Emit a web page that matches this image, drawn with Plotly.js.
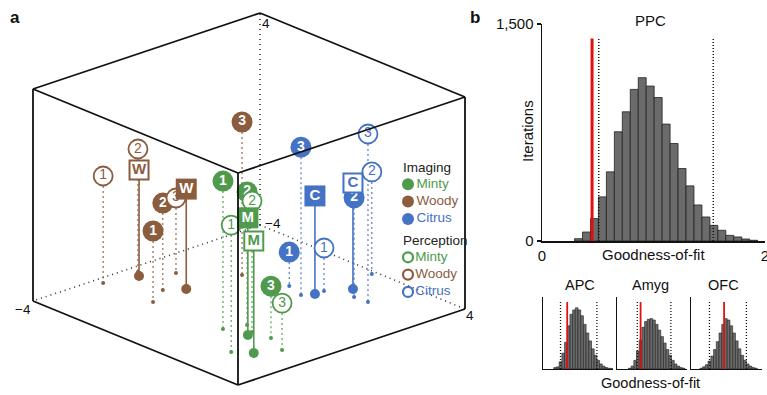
<!DOCTYPE html>
<html><head><meta charset="utf-8">
<script src="https://cdn.plot.ly/plotly-3.0.1.min.js"></script>
<style>html,body{margin:0;padding:0;background:#fff}#chart{width:767px;height:395px}</style>
</head><body><div id="chart"></div>
<script>
// ================= DATA =================
// Panel a: 3D coordinates (each axis spans -4..4); order: point 1, 2, 3, template
const numberLabels = ['1','2','3'];
const templateLetters = {Minty:'M', Woody:'W', Citrus:'C'};
const odorColors = {Minty:'#4f9a4c', Woody:'#8b5c3e', Citrus:'#4472c4'};

const imgMintyX = [-1.64,-0.98,-1.14,-1.44], imgMintyY = [-0.80,-1.01,-2.12,-1.55], imgMintyZ = [1.58,1.02,-2.04,0.42];
const perMintyX = [-2.57,-1.22,-1.49,-2.18], perMintyY = [-2.15,-1.47,-2.94,-2.60], perMintyZ = [0.79,0.94,-2.23,0.23];
const imgWoodyX = [-1.72,-0.96,1.29,-0.46], imgWoodyY = [1.84,2.30,1.70,1.94], imgWoodyZ = [-1.32,-0.72,1.77,-0.23];
const perWoodyX = [-1.79,-0.59,0.10,-0.76], perWoodyY = [3.71,3.68,2.96,3.45], perWoodyZ = [0.04,0.64,-1.17,0.00];
const imgCitrusX = [1.68,2.42,1.48,1.80], imgCitrusY = [0.29,-1.42,-0.39,-0.58], imgCitrusZ = [-2.72,-0.26,1.58,-0.30];
const perCitrusX = [2.12,3.85,2.45,2.77], perCitrusY = [-0.58,-0.53,-1.93,-0.99], perCitrusZ = [-2.38,-0.15,2.34,0.00];

const cubeTickLabels = ['4','\u22124','\u22124','4'];   // top-back, back-bottom, left-bottom, right-bottom
const legendOdors = ['Minty','Woody','Citrus'];
const legendHeadings = ['Imaging','Perception'];

// Panel b: PPC histogram (goodness-of-fit, iterations)
const ppcBinStart = 0.292, ppcBinWidth = 0.0714;
const ppcCounts = [16,62,155,305,478,755,893,1048,1129,1071,992,808,674,501,381,249,166,108,74,39,28,14,5];
const ppcObserved = 0.449;
const ppcCI = [0.509, 1.536];
const ppcLineTop = 1400;
const ppcYTicks = [0,1500], ppcYTickText = ['0','1,500'];
const ppcXTicks = [0,2], ppcXTickText = ['0','2'];

// Small panels (relative units)
const smallNames = ['APC','Amyg','OFC'];
const smallBinStart = [0.154,0.163,0.125];
const smallBinWidth = 0.0385;
const apcCounts  = [0.02,0.03,0.10,0.22,0.37,0.60,0.76,0.82,0.85,0.82,0.74,0.62,0.50,0.39,0.28,0.19,0.12,0.07,0.04,0.02,0.01,0.005];
const amygCounts = [0.01,0.04,0.12,0.25,0.40,0.58,0.66,0.69,0.70,0.68,0.62,0.54,0.45,0.36,0.27,0.19,0.12,0.07,0.04,0.02,0.01];
const ofcCounts  = [0.01,0.03,0.06,0.11,0.18,0.27,0.38,0.50,0.62,0.70,0.68,0.60,0.50,0.39,0.28,0.19,0.12,0.07,0.04,0.02,0.01];
const smallObserved = [0.346,0.337,0.466];
const smallCI = [[0.25,0.77],[0.29,0.77],[0.26,0.78]];
const smallLineTop = 0.93;

// ================= LAYOUT CONSTANTS =================
const FONT = 'Liberation Sans, Arial, Helvetica, sans-serif';
const P0 = [238,385], PR = [227,-76], PL = [-205,-84], PUy = -212;
function proj(x,y,z){
  const a=(x+4)/8, b=(y+4)/8, c=(z+4)/8;
  return [P0[0]+a*PR[0]+b*PL[0], P0[1]+a*PR[1]+b*PL[1]+c*PUy];
}
const traces = [];
const annotations = [];
const W=767,H=395;
function dx(p){return p/W;} function dy(p){return (H-p)/H;}
function paperText(x,y,text,size,extra){
  return Object.assign({x:dx(x),y:dy(y),xref:'paper',yref:'paper',text:text,showarrow:false,xanchor:'center',yanchor:'middle',
    font:{size:size,family:FONT,color:'#111'}},extra||{});
}

// hidden (dotted) cube edges
const hiddenEdges = [[[4,4,-4],[4,4,4]],[[4,4,-4],[-4,4,-4]],[[4,4,-4],[4,-4,-4]]];
hiddenEdges.forEach(e=>{
  const p=proj(...e[0]), q=proj(...e[1]);
  traces.push({x:[p[0],q[0]],y:[p[1],q[1]],mode:'lines',line:{color:'#333',width:1.6,dash:'1px,4px'},xaxis:'x',yaxis:'y',hoverinfo:'skip',showlegend:false});
});

const groups = [
  {odor:'Minty', filled:true, X:imgMintyX,Y:imgMintyY,Z:imgMintyZ},
  {odor:'Woody', filled:true, X:imgWoodyX,Y:imgWoodyY,Z:imgWoodyZ},
  {odor:'Citrus',filled:true, X:imgCitrusX,Y:imgCitrusY,Z:imgCitrusZ},
  {odor:'Minty', filled:false,X:perMintyX,Y:perMintyY,Z:perMintyZ},
  {odor:'Woody', filled:false,X:perWoodyX,Y:perWoodyY,Z:perWoodyZ},
  {odor:'Citrus',filled:false,X:perCitrusX,Y:perCitrusY,Z:perCitrusZ},
];
groups.forEach(g=>{
  g.pts = g.X.map((x,i)=>proj(x,g.Y[i],g.Z[i]));
  g.floor = g.X.map((x,i)=>proj(x,g.Y[i],-4));
});
// drop lines + floor dots
groups.forEach(g=>{
  const col = odorColors[g.odor];
  const xs=[],ys=[];
  for(let i=0;i<3;i++){xs.push(g.pts[i][0],g.floor[i][0],null);ys.push(g.pts[i][1],g.floor[i][1],null);}
  traces.push({x:xs,y:ys,mode:'lines',line:{color:col,width:1.1,dash:'2px,3px'},xaxis:'x',yaxis:'y',hoverinfo:'skip',showlegend:false});
  traces.push({x:[g.pts[3][0],g.floor[3][0]],y:[g.pts[3][1],g.floor[3][1]],mode:'lines',line:{color:col,width:1.6},xaxis:'x',yaxis:'y',hoverinfo:'skip',showlegend:false});
  traces.push({x:g.floor.slice(0,3).map(p=>p[0]),y:g.floor.slice(0,3).map(p=>p[1]),mode:'markers',marker:{color:col,size:4},xaxis:'x',yaxis:'y',hoverinfo:'skip',showlegend:false});
  traces.push({x:[g.floor[3][0]],y:[g.floor[3][1]],mode:'markers',marker:{color:col,size:10},xaxis:'x',yaxis:'y',hoverinfo:'skip',showlegend:false});
});
// numbered markers (filled first, then open)
groups.forEach(g=>{
  const col = odorColors[g.odor];
  traces.push({x:g.pts.slice(0,3).map(p=>p[0]),y:g.pts.slice(0,3).map(p=>p[1]),text:numberLabels,mode:'markers+text',textposition:'middle center',
    marker:g.filled?{color:col,size:21,line:{width:0}}:{color:'#fff',size:19,line:{color:col,width:1.8}},
    textfont:{family:FONT,size:14,color:g.filled?'#fff':col,weight:g.filled?'bold':'normal'},
    xaxis:'x',yaxis:'y',hoverinfo:'skip',showlegend:false});
});
// template markers
groups.forEach(g=>{
  const col = odorColors[g.odor];
  traces.push({x:[g.pts[3][0]],y:[g.pts[3][1]],text:[templateLetters[g.odor]],mode:'markers+text',textposition:'middle center',
    marker:g.filled?{symbol:'square',color:col,size:21,line:{width:0}}:{symbol:'square',color:'#fff',size:19,line:{color:col,width:2}},
    textfont:{family:FONT,size:15,color:g.filled?'#fff':col,weight:'bold'},
    xaxis:'x',yaxis:'y',hoverinfo:'skip',showlegend:false});
});
// visible cube edges
const visEdges = [
  [[-4,-4,4],[4,-4,4]],[[4,-4,4],[4,4,4]],[[4,4,4],[-4,4,4]],[[-4,4,4],[-4,-4,4]],
  [[-4,-4,-4],[-4,-4,4]],[[4,-4,-4],[4,-4,4]],[[-4,4,-4],[-4,4,4]],
  [[-4,4,-4],[-4,-4,-4]],[[-4,-4,-4],[4,-4,-4]]];
{
  const xs=[],ys=[];
  visEdges.forEach(e=>{const p=proj(...e[0]),q=proj(...e[1]);xs.push(p[0],q[0],null);ys.push(p[1],q[1],null);});
  traces.push({x:xs,y:ys,mode:'lines',line:{color:'#111',width:1.8},xaxis:'x',yaxis:'y',hoverinfo:'skip',showlegend:false});
}
// cube tick labels
const tickCorners = [[4,4,4],[4,4,-4],[-4,4,-4],[4,-4,-4]];
const tickShifts = [[6,-10],[13,2],[-10,-8],[5,-6]];
tickCorners.forEach((c,i)=>{
  const p=proj(...c);
  annotations.push({x:p[0],y:p[1],xref:'x',yref:'y',text:cubeTickLabels[i],showarrow:false,xanchor:'center',yanchor:'middle',xshift:tickShifts[i][0],yshift:tickShifts[i][1],font:{family:FONT,size:13.5,color:'#111'}});
});
// legend
const LEG_X = 408, LEG_TX = 401, LEG_HEAD_Y = [167,240], LEG_DY = 17.3;
legendHeadings.forEach((h,k)=>{
  annotations.push({x:LEG_TX,y:LEG_HEAD_Y[k],xref:'x',yref:'y',text:h,showarrow:false,xanchor:'left',yanchor:'middle',font:{family:FONT,size:13.5,color:'#222'}});
  traces.push({x:legendOdors.map(()=>LEG_X),y:legendOdors.map((o,i)=>LEG_HEAD_Y[k]+LEG_DY*(i+1)),text:legendOdors,mode:'markers+text',textposition:'middle right',
    marker:k===0?{color:legendOdors.map(o=>odorColors[o]),size:12}:{color:'#fff',size:10,line:{color:legendOdors.map(o=>odorColors[o]),width:2.2}},
    textfont:{family:FONT,size:13.5,color:legendOdors.map(o=>odorColors[o])},xaxis:'x',yaxis:'y',hoverinfo:'skip',showlegend:false});
});

// ---- panel b: PPC ----
traces.push({type:'bar',x:ppcCounts.map((c,i)=>ppcBinStart+ppcBinWidth*(i+0.5)),y:ppcCounts,width:ppcBinWidth,
  marker:{color:'#6b6b6b',line:{color:'#222',width:0.8}},xaxis:'x2',yaxis:'y2',hoverinfo:'skip',showlegend:false});
ppcCI.forEach(v=>traces.push({x:[v,v],y:[0,ppcLineTop],mode:'lines',line:{color:'#111',width:1.5,dash:'1px,2px'},xaxis:'x2',yaxis:'y2',hoverinfo:'skip',showlegend:false}));
traces.push({x:[ppcObserved,ppcObserved],y:[0,ppcLineTop],mode:'lines',line:{color:'#e01010',width:3},xaxis:'x2',yaxis:'y2',hoverinfo:'skip',showlegend:false});

const smallCounts = [apcCounts,amygCounts,ofcCounts];
smallCounts.forEach((cnt,k)=>{
  const ax = k+3;
  traces.push({type:'bar',x:cnt.map((c,i)=>smallBinStart[k]+smallBinWidth*(i+0.5)),y:cnt,width:smallBinWidth,
    marker:{color:'#6b6b6b',line:{color:'#222',width:0.6}},xaxis:'x'+ax,yaxis:'y'+ax,hoverinfo:'skip',showlegend:false});
  smallCI[k].forEach(v=>traces.push({x:[v,v],y:[0,smallLineTop],mode:'lines',line:{color:'#111',width:1.3,dash:'1px,2px'},xaxis:'x'+ax,yaxis:'y'+ax,hoverinfo:'skip',showlegend:false}));
  traces.push({x:[smallObserved[k],smallObserved[k]],y:[0,smallLineTop],mode:'lines',line:{color:'#e01010',width:1.8},xaxis:'x'+ax,yaxis:'y'+ax,hoverinfo:'skip',showlegend:false});
});

const layout = {
  width:W,height:H,margin:{l:0,r:0,t:0,b:0},paper_bgcolor:'#fff',plot_bgcolor:'rgba(0,0,0,0)',
  font:{family:FONT,color:'#111'},bargap:0,
  xaxis:{domain:[0,1],range:[0,W],visible:false,fixedrange:true},
  yaxis:{domain:[0,1],range:[H,0],visible:false,fixedrange:true},
  xaxis2:{domain:[dx(542),dx(765)],range:[0,2],anchor:'y2',showline:true,linecolor:'#111',linewidth:1.5,tickvals:ppcXTicks,ticktext:ppcXTickText,ticks:'',showgrid:false,zeroline:false,
    ticklabeloverflow:'allow',tickfont:{size:15,family:FONT}},
  yaxis2:{domain:[dy(241),dy(24)],range:[0,1500],anchor:'x2',showline:true,linecolor:'#111',linewidth:1.5,tickvals:ppcYTicks,ticktext:ppcYTickText,ticks:'outside',ticklen:4,tickwidth:1.5,tickcolor:'#111',showgrid:false,zeroline:false,
    ticklabeloverflow:'allow',tickfont:{size:15,family:FONT}},
  annotations:annotations.concat([
    paperText(15,17,'<b>a</b>',17),
    paperText(475,17,'<b>b</b>',17),
    paperText(650,21,'PPC',15),
    paperText(527,131,'Iterations',15,{textangle:-90}),
    paperText(653,254,'Goodness-of-fit',15),
    paperText(650,383,'Goodness-of-fit',14.5),
  ])
};
const smallDom = [[543,613],[617,687],[691,762]];
const smallTitleX = [580,650,723];
smallDom.forEach((d,k)=>{
  const ax=k+3;
  layout['xaxis'+ax]={domain:[dx(d[0]),dx(d[1])],range:[0,1],anchor:'y'+ax,showline:true,linecolor:'#111',linewidth:1.3,showticklabels:false,ticks:'',showgrid:false,zeroline:false};
  layout['yaxis'+ax]={domain:[dy(369),dy(297)],range:[0,1],anchor:'x'+ax,showline:true,linecolor:'#111',linewidth:1.3,showticklabels:false,ticks:'',showgrid:false,zeroline:false};
  layout.annotations.push(paperText(smallTitleX[k],285,smallNames[k],14.5));
});
Plotly.newPlot('chart',traces,layout,{staticPlot:true,displayModeBar:false});
</script></body></html>
